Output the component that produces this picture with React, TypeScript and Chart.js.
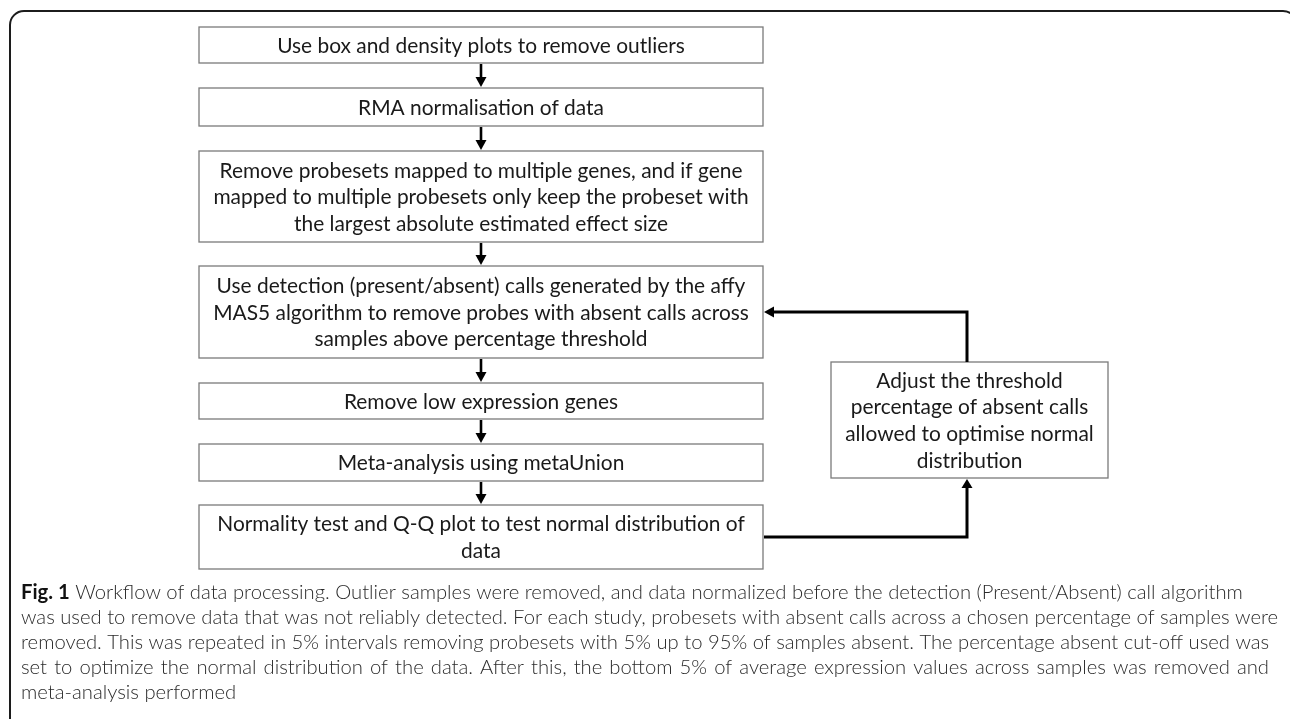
import React, { useEffect, useRef } from "react";
import { Chart, registerables } from "chart.js";

Chart.register(...registerables);

// ---- content ----
const stepTexts: string[][] = [
  ["Use box and density plots to remove outliers"],
  ["RMA normalisation of data"],
  [
    "Remove probesets mapped to multiple genes, and if gene",
    "mapped to multiple probesets only keep the probeset with",
    "the largest absolute estimated effect size",
  ],
  [
    "Use detection (present/absent) calls generated by the affy",
    "MAS5 algorithm to remove probes with absent calls across",
    "samples above percentage threshold",
  ],
  ["Remove low expression genes"],
  ["Meta-analysis using metaUnion"],
  ["Normality test and Q-Q plot to test normal distribution of", "data"],
];

const loopTexts: string[] = [
  "Adjust the threshold",
  "percentage of absent calls",
  "allowed to optimise normal",
  "distribution",
];

const captionLabel = "Fig. 1";
const captionLines: string[] = [
  "Workflow of data processing. Outlier samples were removed, and data normalized before the detection (Present/Absent) call algorithm",
  "was used to remove data that was not reliably detected. For each study, probesets with absent calls across a chosen percentage of samples were",
  "removed. This was repeated in 5% intervals removing probesets with 5% up to 95% of samples absent. The percentage absent cut-off used was",
  "set to optimize the normal distribution of the data. After this, the bottom 5% of average expression values across samples was removed and",
  "meta-analysis performed",
];
const captionJustified: boolean[] = [false, false, false, true, false];

// loop: from step 7 back to step 4 (1-based indices)
const loopFromStep = 7;
const loopToStep = 4;

// ---- layout (pixel space of the 1290x719 figure) ----
const W = 1290;
const H = 719;
const boxLeft = 199;
const boxRight = 763;
const boxTops = [27, 88, 151, 266, 383, 444, 505];
const boxBottoms = [63, 126, 242, 358, 419, 481, 569];
const sideBox = { x0: 831, x1: 1108, y0: 362, y1: 478 };
const loopX = 967;
const captionLeft = 21;
const captionRight = 1279;
const captionTop = 592;
const captionStep = 25;

const BOX_FONT = "Lato";
const BOX_TEXT_WIDTH = 408; // rendered width of the first step's text
const BOX_LINE = 26.7;

function drawArrowHead(ctx: CanvasRenderingContext2D, x: number, y: number, dir: "down" | "up" | "left", len = 9, half = 5.5) {
  ctx.beginPath();
  if (dir === "down") {
    ctx.moveTo(x, y);
    ctx.lineTo(x - half, y - len);
    ctx.lineTo(x + half, y - len);
  } else if (dir === "up") {
    ctx.moveTo(x, y);
    ctx.lineTo(x - half, y + len);
    ctx.lineTo(x + half, y + len);
  } else {
    ctx.moveTo(x, y);
    ctx.lineTo(x + len, y - half);
    ctx.lineTo(x + len, y + half);
  }
  ctx.closePath();
  ctx.fill();
}

const flowPlugin = {
  id: "flowPlugin",
  beforeDraw(chart: any) {
    const ctx = chart.ctx as CanvasRenderingContext2D;
    ctx.save();
    ctx.fillStyle = "#ffffff";
    ctx.fillRect(0, 0, chart.width, chart.height);
    ctx.restore();
  },
  afterDatasetsDraw(chart: any) {
    const ctx = chart.ctx as CanvasRenderingContext2D;
    const xs = chart.scales.x;
    const ys = chart.scales.y;
    const X = (v: number) => xs.getPixelForValue(v);
    const Y = (v: number) => ys.getPixelForValue(v);

    ctx.save();

    // outer rounded frame (open at bottom, right corner runs off the edge)
    ctx.strokeStyle = "#1c1c1c";
    ctx.lineWidth = 2;
    const r = 14;
    const fx0 = X(10), fy0 = Y(11), fx1 = X(1297);
    ctx.beginPath();
    ctx.moveTo(fx0, H + 20);
    ctx.lineTo(fx0, fy0 + r);
    ctx.arcTo(fx0, fy0, fx0 + r, fy0, r);
    ctx.lineTo(fx1 - r, fy0);
    ctx.arcTo(fx1, fy0, fx1, fy0 + r, r);
    ctx.lineTo(fx1, H + 20);
    ctx.stroke();

    // box font size fitted to the measured width of the first step label
    ctx.font = `20px ${BOX_FONT}`;
    const w20 = ctx.measureText(stepTexts[0][0]).width;
    const boxSize = (20 * BOX_TEXT_WIDTH) / w20;
    const boxFont = `${boxSize}px ${BOX_FONT}`;

    // boxes
    const cx = (X(boxLeft) + X(boxRight)) / 2;
    ctx.font = boxFont;
    ctx.textAlign = "center";
    ctx.textBaseline = "middle";
    stepTexts.forEach((lines, i) => {
      const x0 = X(boxLeft), x1 = X(boxRight);
      const y0 = Y(boxTops[i]), y1 = Y(boxBottoms[i]);
      ctx.fillStyle = "#ffffff";
      ctx.fillRect(x0, y0, x1 - x0, y1 - y0);
      ctx.strokeStyle = "#7a7a7a";
      ctx.lineWidth = 1.3;
      ctx.strokeRect(x0, y0, x1 - x0, y1 - y0);
      ctx.fillStyle = "#1a1a1a";
      const mid = (y0 + y1) / 2;
      lines.forEach((t, k) => {
        const ty = mid + (k - (lines.length - 1) / 2) * BOX_LINE + 1;
        ctx.fillText(t, cx, ty);
      });
    });

    // down arrows between boxes
    ctx.strokeStyle = "#000";
    ctx.fillStyle = "#000";
    ctx.lineWidth = 2.6;
    for (let i = 0; i < stepTexts.length - 1; i++) {
      const yA = Y(boxBottoms[i]) + 1;
      const yB = Y(boxTops[i + 1]) - 1;
      ctx.beginPath();
      ctx.moveTo(cx, yA);
      ctx.lineTo(cx, yB - 7);
      ctx.stroke();
      drawArrowHead(ctx, cx, yB, "down", 10, 5.5);
    }

    // side box
    const sx0 = X(sideBox.x0), sx1 = X(sideBox.x1), sy0 = Y(sideBox.y0), sy1 = Y(sideBox.y1);
    ctx.fillStyle = "#ffffff";
    ctx.fillRect(sx0, sy0, sx1 - sx0, sy1 - sy0);
    ctx.strokeStyle = "#7a7a7a";
    ctx.lineWidth = 1.3;
    ctx.strokeRect(sx0, sy0, sx1 - sx0, sy1 - sy0);
    ctx.fillStyle = "#1a1a1a";
    const smid = (sy0 + sy1) / 2;
    const scx = (sx0 + sx1) / 2;
    loopTexts.forEach((t, k) => {
      const ty = smid + (k - (loopTexts.length - 1) / 2) * BOX_LINE + 1;
      ctx.fillText(t, scx, ty);
    });

    // loop connectors
    ctx.strokeStyle = "#000";
    ctx.fillStyle = "#000";
    ctx.lineWidth = 3;
    const fromMid = (Y(boxTops[loopFromStep - 1]) + Y(boxBottoms[loopFromStep - 1])) / 2;
    const toMid = (Y(boxTops[loopToStep - 1]) + Y(boxBottoms[loopToStep - 1])) / 2;
    const lx = X(loopX);
    ctx.beginPath();
    ctx.moveTo(X(boxRight) + 1, fromMid);
    ctx.lineTo(lx, fromMid);
    ctx.lineTo(lx, sy1 + 8);
    ctx.stroke();
    drawArrowHead(ctx, lx, sy1 + 1, "up", 9, 5.5);
    ctx.beginPath();
    ctx.moveTo(lx, sy0);
    ctx.lineTo(lx, toMid);
    ctx.lineTo(X(boxRight) + 9, toMid);
    ctx.stroke();
    drawArrowHead(ctx, X(boxRight) + 1, toMid, "left", 10, 5.5);

    // caption
    ctx.textAlign = "left";
    ctx.textBaseline = "middle";
    const capFamily = "Lato";
    ctx.font = `300 17px ${capFamily}`;
    const probe = ctx.measureText(captionLines[1]).width;
    const capSize = (17 * (X(captionRight) - X(captionLeft))) / probe;
    const cl = X(captionLeft);
    const cr = X(captionRight);
    captionLines.forEach((line, i) => {
      const y = Y(captionTop + i * captionStep);
      let x = cl;
      if (i === 0) {
        ctx.font = `bold ${capSize}px ${capFamily}`;
        ctx.fillStyle = "#111";
        ctx.fillText(captionLabel, x, y);
        x += ctx.measureText(captionLabel).width;
        ctx.font = `300 ${capSize}px ${capFamily}`;
        x += ctx.measureText(" ").width;
      }
      ctx.font = `300 ${capSize}px ${capFamily}`;
      ctx.fillStyle = "#2b2b2b";
      if (captionJustified[i]) {
        const words = line.split(" ");
        const total = words.reduce((s, w) => s + ctx.measureText(w).width, 0);
        const gap = (cr - 10 - x - total) / (words.length - 1);
        words.forEach((w) => {
          ctx.fillText(w, x, y);
          x += ctx.measureText(w).width + gap;
        });
      } else {
        ctx.fillText(line, x, y);
      }
    });

    ctx.restore();
  },
};

export default function App() {
  const ref = useRef<HTMLCanvasElement | null>(null);
  useEffect(() => {
    if (!ref.current) return;
    const centers = stepTexts.map((_, i) => ({
      x: (boxLeft + boxRight) / 2,
      y: (boxTops[i] + boxBottoms[i]) / 2,
    }));
    const chart = new Chart(ref.current, {
      type: "scatter",
      data: {
        datasets: [
          {
            label: "steps",
            data: centers,
            pointRadius: 0,
            showLine: false,
          },
        ],
      },
      options: {
        responsive: false,
        maintainAspectRatio: false,
        animation: false,
        events: [],
        layout: { padding: 0 },
        plugins: { legend: { display: false }, tooltip: { enabled: false }, title: { display: false } },
        scales: {
          x: { type: "linear", min: 0, max: W, display: false },
          y: { type: "linear", min: 0, max: H, reverse: true, display: false },
        },
      },
      plugins: [flowPlugin],
    });
    return () => chart.destroy();
  }, []);
  return (
    <div style={{ position: "fixed", left: 0, top: 0, width: W, height: H, background: "#fff" }}>
      <canvas ref={ref} width={W} height={H} style={{ display: "block", width: W, height: H }} />
    </div>
  );
}
